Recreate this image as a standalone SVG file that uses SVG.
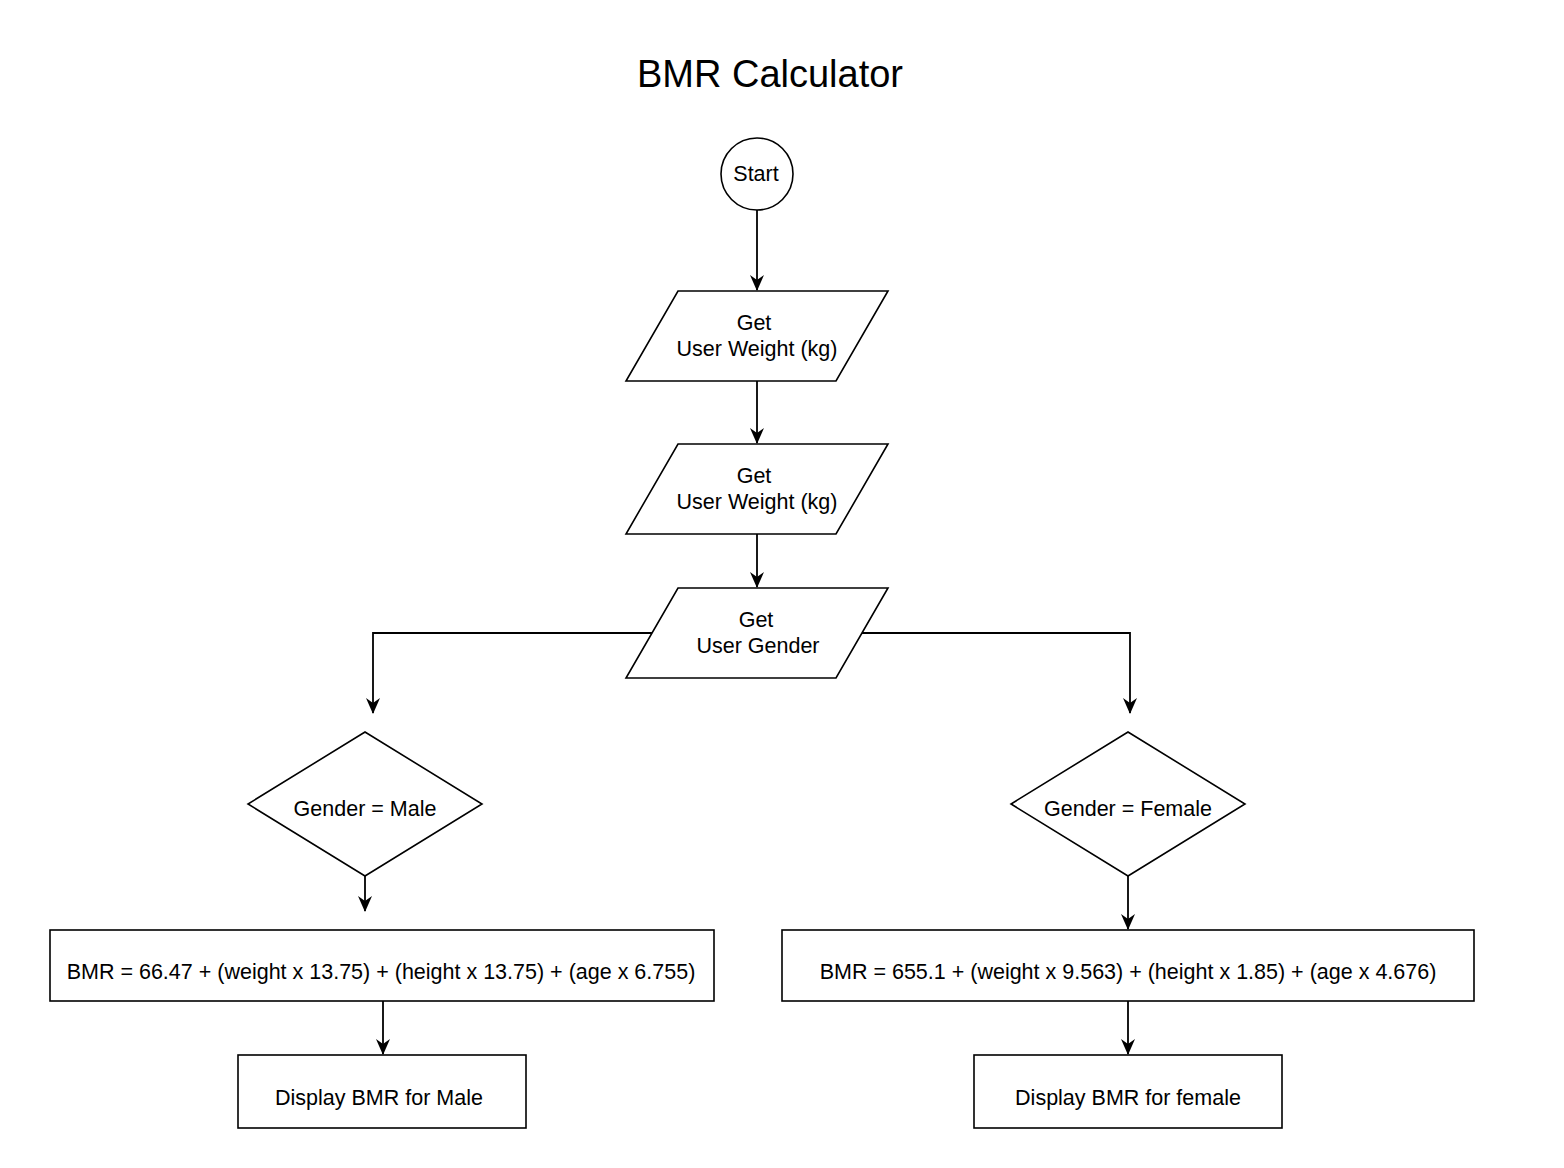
<svg xmlns="http://www.w3.org/2000/svg" width="1564" height="1168" viewBox="0 0 1564 1168">
<defs>
<style>
.s{fill:#fff;stroke:#000;stroke-width:1.6}
.t{font-family:"Liberation Sans",Arial,sans-serif;font-size:21.5px;fill:#000;text-anchor:middle}
.c{fill:none;stroke:#000;stroke-width:1.8}
</style>
<marker id="a" viewBox="0 0 16 14" refX="15" refY="7" markerWidth="16" markerHeight="14" markerUnits="userSpaceOnUse" orient="auto">
<path d="M0,0 L16,7 L0,14 L5,7 Z" fill="#000"/>
</marker>
</defs>
<rect width="1564" height="1168" fill="#fff"/>
<text x="770" y="87" class="t" style="font-size:38px">BMR Calculator</text>
<g id="connectors">
<path class="c" d="M757,210 V290" marker-end="url(#a)"/>
<path class="c" d="M757,381 V443" marker-end="url(#a)"/>
<path class="c" d="M757,534 V587" marker-end="url(#a)"/>
<path class="c" d="M652,633 H373 V713" marker-end="url(#a)"/>
<path class="c" d="M862,633 H1130 V713" marker-end="url(#a)"/>
<path class="c" d="M365,876 V911" marker-end="url(#a)"/>
<path class="c" d="M1128,876 V929" marker-end="url(#a)"/>
<path class="c" d="M383,1001 V1054" marker-end="url(#a)"/>
<path class="c" d="M1128,1001 V1054" marker-end="url(#a)"/>
</g>
<g id="start">
<circle class="s" cx="757" cy="174" r="36"/>
<text x="756" y="181" class="t">Start</text>
</g>
<g id="weight1">
<polygon class="s" points="678,291 888,291 836,381 626,381"/>
<text x="754" y="330" class="t">Get</text>
<text x="757" y="356" class="t">User Weight (kg)</text>
</g>
<g id="weight2">
<polygon class="s" points="678,444 888,444 836,534 626,534"/>
<text x="754" y="483" class="t">Get</text>
<text x="757" y="509" class="t">User Weight (kg)</text>
</g>
<g id="gender">
<polygon class="s" points="678,588 888,588 836,678 626,678"/>
<text x="756" y="627" class="t">Get</text>
<text x="758" y="653" class="t">User Gender</text>
</g>
<g id="male">
<polygon class="s" points="365,732 482,804 365,876 248,804"/>
<text x="365" y="816" class="t">Gender = Male</text>
</g>
<g id="female">
<polygon class="s" points="1128,732 1245,804 1128,876 1011,804"/>
<text x="1128" y="816" class="t">Gender = Female</text>
</g>
<g id="bmrMale">
<rect class="s" x="50" y="930" width="664" height="71"/>
<text x="381" y="979" class="t">BMR = 66.47 + (weight x 13.75) + (height x 13.75) + (age x 6.755)</text>
</g>
<g id="bmrFemale">
<rect class="s" x="782" y="930" width="692" height="71"/>
<text x="1128" y="979" class="t">BMR = 655.1 + (weight x 9.563) + (height x 1.85) + (age x 4.676)</text>
</g>
<g id="displayMale">
<rect class="s" x="238" y="1055" width="288" height="73"/>
<text x="379" y="1105" class="t">Display BMR for Male</text>
</g>
<g id="displayFemale">
<rect class="s" x="974" y="1055" width="308" height="73"/>
<text x="1128" y="1105" class="t">Display BMR for female</text>
</g>
</svg>
